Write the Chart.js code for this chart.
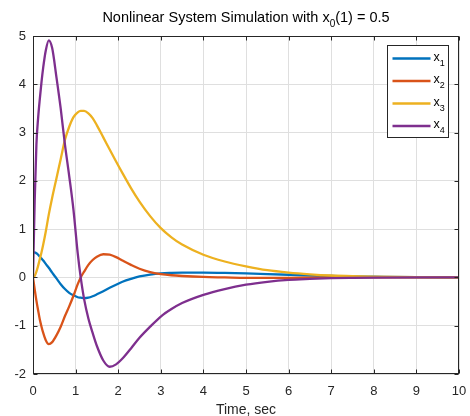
<!DOCTYPE html>
<html>
<head>
<meta charset="utf-8">
<script src="https://cdn.jsdelivr.net/npm/chart.js@4.4.0/dist/chart.umd.min.js"></script>
<style>
body { margin: 0; background: #fff; }
#wrap { width: 470px; height: 416px; }
</style>
</head>
<body>
<div id="wrap"><canvas id="myChart"></canvas></div>
<script>
// time samples (sec)
const times = [0, 0.04, 0.08, 0.12, 0.16, 0.2, 0.24, 0.3, 0.37, 0.45, 0.55, 0.65, 0.75, 0.85, 0.95, 1.05, 1.12, 1.2, 1.3, 1.4,
	1.5, 1.65, 1.8, 1.95, 2.1, 2.3, 2.5, 2.75, 3.0, 3.25, 3.5, 4.0, 4.5, 5.0, 5.5, 6.0, 6.5, 7.0, 7.5, 8.0, 9.0, 10.0];

const x1 = [0.5, 0.52, 0.5, 0.47, 0.43, 0.39, 0.35, 0.28, 0.2, 0.1, -0.02, -0.14, -0.24, -0.32, -0.37, -0.41, -0.42, -0.43, -0.42, -0.39,
	-0.35, -0.285, -0.215, -0.15, -0.09, -0.03, 0.02, 0.06, 0.085, 0.095, 0.1, 0.1, 0.095, 0.085, 0.07, 0.055, 0.04, 0.03, 0.02, 0.015, 0.006, 0.002];
const x2 = [0, -0.25, -0.48, -0.68, -0.87, -1.02, -1.15, -1.3, -1.38, -1.34, -1.2, -1.02, -0.8, -0.6, -0.38, -0.14, 0.0, 0.12, 0.26, 0.36,
	0.43, 0.48, 0.47, 0.42, 0.35, 0.26, 0.18, 0.11, 0.07, 0.045, 0.03, 0.01, 0.0, -0.01, -0.01, -0.01, -0.005, 0, 0, 0, 0, 0];
const x3 = [0, 0.03, 0.12, 0.24, 0.38, 0.52, 0.68, 0.95, 1.3, 1.65, 2.05, 2.45, 2.85, 3.12, 3.32, 3.42, 3.45, 3.45, 3.4, 3.3,
	3.15, 2.9, 2.65, 2.4, 2.16, 1.85, 1.57, 1.27, 1.02, 0.83, 0.68, 0.47, 0.33, 0.23, 0.15, 0.1, 0.065, 0.04, 0.025, 0.015, 0.005, 0];
const x4 = [0, 1.6, 2.75, 3.3, 3.7, 4.05, 4.35, 4.7, 4.91, 4.75, 4.15, 3.5, 2.75, 2.1, 1.4, 0.5, 0.0, -0.45, -0.85, -1.15,
	-1.42, -1.72, -1.85, -1.8, -1.68, -1.47, -1.25, -1.02, -0.81, -0.655, -0.53, -0.36, -0.24, -0.15, -0.09, -0.05, -0.03, -0.015, -0.008, -0.004, 0, 0];

const seriesValues = [x1, x2, x3, x4];
const seriesLabels = ['x₁', 'x₂', 'x₃', 'x₄'];
const lineColors = ['#0072BD', '#D95319', '#EDB120', '#7E2F8E'];

const titleText = 'Nonlinear System Simulation with x₀(1) = 0.5';
const xAxisLabel = 'Time, sec';
const xRange = [0, 10];
const yRange = [-2, 5];

const fontFamily = '"Liberation Sans", Arial, Helvetica, sans-serif';
const axisColor = '#262626';
const gridColor = '#dfdfdf';

Chart.defaults.font.family = fontFamily;
Chart.defaults.color = axisColor;

// draws text, turning unicode subscript digits into small lowered digits
function drawRich(ctx, text, x, y, size, align) {
	const subs = '₀₁₂₃₄₅₆₇₈₉';
	const subSize = Math.round(size * 0.72);
	const parts = [];
	for (const ch of text) {
		const i = subs.indexOf(ch);
		const sub = i >= 0;
		const c = sub ? String(i) : ch;
		if (parts.length && parts[parts.length - 1].sub === sub) parts[parts.length - 1].s += c;
		else parts.push({s: c, sub: sub});
	}
	let w = 0;
	parts.forEach(p => {
		ctx.font = (p.sub ? subSize : size) + 'px ' + fontFamily;
		p.w = ctx.measureText(p.s).width;
		w += p.w;
	});
	let cx = align === 'center' ? x - w / 2 : x;
	ctx.textAlign = 'left';
	ctx.textBaseline = 'middle';
	parts.forEach(p => {
		ctx.font = (p.sub ? subSize : size) + 'px ' + fontFamily;
		ctx.fillText(p.s, cx, p.sub ? y + size * 0.45 : y);
		cx += p.w;
	});
}

const titlePlugin = {
	id: 'richTitle',
	afterDraw(chart) {
		const {ctx, chartArea} = chart;
		ctx.save();
		ctx.fillStyle = '#000';
		drawRich(ctx, titleText, (chartArea.left + chartArea.right) / 2, 17.5, 14.5, 'center');
		ctx.restore();
	}
};

// box round the plot plus inward tick marks
const framePlugin = {
	id: 'frame',
	afterDatasetsDraw(chart) {
		const {ctx, chartArea: a, scales} = chart;
		const l = Math.round(a.left) + 0.5, r = Math.round(a.right) - 0.5;
		const t = Math.round(a.top) + 0.5, b = Math.round(a.bottom) - 0.5;
		ctx.save();
		ctx.strokeStyle = axisColor;
		ctx.lineWidth = 1;
		ctx.strokeRect(l, t, r - l, b - t);
		ctx.beginPath();
		scales.x.ticks.forEach(tk => {
			const px = Math.round(scales.x.getPixelForValue(tk.value)) + 0.5;
			ctx.moveTo(px, b); ctx.lineTo(px, b - 4);
			ctx.moveTo(px, t); ctx.lineTo(px, t + 4);
		});
		scales.y.ticks.forEach(tk => {
			const py = Math.round(scales.y.getPixelForValue(tk.value)) + 0.5;
			ctx.moveTo(l, py); ctx.lineTo(l + 4, py);
			ctx.moveTo(r, py); ctx.lineTo(r - 4, py);
		});
		ctx.stroke();
		ctx.restore();
	}
};

const legendPlugin = {
	id: 'boxLegend',
	afterDraw(chart) {
		const {ctx, chartArea: a} = chart;
		const w = 61, h = 92;
		const left = Math.round(a.right) - 11 - w + 0.5, top = Math.round(a.top) + 9 + 0.5;
		ctx.save();
		ctx.fillStyle = '#fff';
		ctx.fillRect(left, top, w, h);
		ctx.strokeStyle = axisColor;
		ctx.lineWidth = 1;
		ctx.strokeRect(left, top, w, h);
		chart.data.datasets.forEach((ds, i) => {
			const y = top + 13 + i * 22.5;
			ctx.strokeStyle = ds.borderColor;
			ctx.lineWidth = 2.3;
			ctx.beginPath();
			ctx.moveTo(left + 5, y);
			ctx.lineTo(left + 43, y);
			ctx.stroke();
			ctx.fillStyle = '#000';
			drawRich(ctx, ds.label, left + 46, y - 1, 12.5, 'left');
		});
		ctx.restore();
	}
};

const datasets = seriesValues.map((vals, k) => ({
	label: seriesLabels[k],
	data: times.map((t, i) => ({x: t, y: vals[i]})),
	borderColor: lineColors[k],
	backgroundColor: lineColors[k],
	borderWidth: 2.3,
	pointRadius: 0,
	fill: false,
	cubicInterpolationMode: 'monotone',
	order: seriesValues.length - k
}));

let ctx = document.getElementById('myChart').getContext('2d');
let myChart = new Chart(ctx, {
	type: 'line',
	data: { datasets: datasets },
	options: {
		responsive: true,
		maintainAspectRatio: false,
		animation: false,
		layout: { padding: { top: 36, right: 11, left: 0, bottom: 0 } },
		plugins: {
			legend: { display: false },
			title: { display: false },
			tooltip: { enabled: false }
		},
		scales: {
			x: {
				type: 'linear',
				min: xRange[0],
				max: xRange[1],
				ticks: { stepSize: 1, padding: 10, font: { size: 13 }, color: axisColor, maxRotation: 0 },
				grid: { color: gridColor, drawTicks: false },
				border: { display: false },
				title: { display: true, text: xAxisLabel, font: { size: 14, lineHeight: 0.8 }, color: axisColor, padding: { top: 0, bottom: 0 } },
				afterFit(s) { s.height = 42; s.paddingLeft = 0; s.paddingRight = 0; }
			},
			y: {
				type: 'linear',
				min: yRange[0],
				max: yRange[1],
				ticks: { stepSize: 1, padding: 7, font: { size: 13 }, color: axisColor },
				grid: { color: gridColor, drawTicks: false },
				border: { display: false },
				afterFit(s) { s.width = 33; s.paddingTop = 0; s.paddingBottom = 0; }
			}
		}
	},
	plugins: [framePlugin, legendPlugin, titlePlugin]
});
</script>
</body>
</html>
